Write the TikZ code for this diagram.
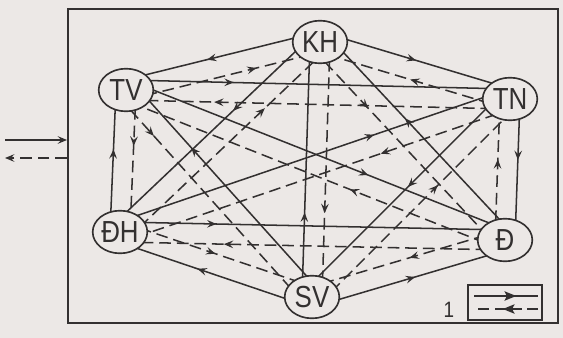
\documentclass[tikz,border=0pt]{standalone}
\usepackage{fontspec}
\setmainfont{Liberation Sans}
\newfontfamily\labelfont[FakeStretch=0.85]{Liberation Sans}
\usetikzlibrary{calc,shapes.geometric,arrows.meta,decorations.markings}
\definecolor{paper}{HTML}{ECE8E6}
\definecolor{ink}{HTML}{333030}
\pgfdeclarelayer{back}
\pgfdeclarelayer{edges}
\pgfsetlayers{back,edges,main}

\begin{document}
\begin{tikzpicture}[x=0.03cm, y=-0.03cm,
    actor/.style={ellipse, draw=ink, fill=paper, line width=1.4pt, inner sep=0pt, minimum width=1.64cm, minimum height=1.28cm, text=ink, font=\labelfont\fontsize{26}{26}\selectfont},
    flowmark/.style={postaction={decorate}, decoration={markings, mark=at position #1 with {\arrow{Stealth[length=8pt,width=6.5pt,inset=3pt]}}}},
    keymark/.style={postaction={decorate}, decoration={markings, mark=at position #1 with {\arrow{Stealth[length=10pt,width=8pt,inset=2pt]}}}},
    solidflow/.style={draw=ink, line width=1.3pt, flowmark=#1},
    dashflow/.style={draw=ink, line width=1.3pt, dash pattern=on 10pt off 5pt, flowmark=#1},
    box/.style={draw=ink, inner sep=0pt}
]
    \begin{pgfonlayer}{back}
        \fill[paper] (0,0) rectangle (563,338);
    \end{pgfonlayer}
    \useasboundingbox (0,0) rectangle (563,338);

    % Khung
    \node[box, line width=1.6pt, minimum width=14.7cm, minimum height=9.42cm] (frame) at (313,166) {};

    % Cac tac nhan
    \node[actor] (kh) at (320,42) {KH};
    \node[actor] (tv) at (126,90) {TV};
    \node[actor] (tn) at (510,99) {TN};
    \node[actor] (dh) at (120,232) {ĐH};
    \node[actor] (d) at (505,240) {Đ};
    \node[actor] (sv) at (312,297) {SV};

    % Cap luong: lien a->b, dut b->a
    \begin{pgfonlayer}{edges}
    \foreach \a/\b/\s/\p/\q [evaluate=\s as \t using -\s] in {
        kh/tv/-90/0.57/0.66, kh/tn/90/0.49/0.51, tv/tn/90/0.28/0.77,
        dh/tv/90/0.58/0.39, tn/d/90/0.43/0.57, sv/kh/90/0.33/0.67,
        dh/d/90/0.25/0.73, sv/dh/90/0.58/0.48, sv/d/-90/0.52/0.48,
        tv/d/90/0.63/0.40, sv/tv/-90/0.69/0.19, kh/dh/-90/0.40/0.69,
        d/kh/-90/0.58/0.30, dh/tn/90/0.66/0.34, tn/sv/-90/0.48/0.60} {
        \draw[solidflow=\p] ($(\a)!0.3cm!\s:(\b)$) -- ($(\b)!0.3cm!\t:(\a)$);
        \draw[dashflow=\q] ($(\b)!0.3cm!\s:(\a)$) -- ($(\a)!0.3cm!\t:(\b)$);
    }
    \end{pgfonlayer}

    % Vao / ra
    \coordinate (feedin) at (5,140);
    \coordinate (feedout) at (5,158);
    \draw[ink, line width=1.3pt, -{Stealth[length=8pt,width=6.5pt,inset=3pt]}] (feedin) -- (feedin -| frame.west);
    \draw[ink, line width=1.3pt, dash pattern=on 10pt off 5pt, -{Stealth[length=8pt,width=6.5pt,inset=3pt]}] (feedout -| frame.west) -- (feedout);

    % Chu thich
    \node[box, line width=1.4pt, minimum width=2.22cm, minimum height=1.05cm] (legend) at (505,302.5) {};
    \node[text=ink, font=\labelfont\fontsize{19}{19}\selectfont] (legnum) at (449,310) {1};
    \coordinate (keyA) at (474,296);
    \coordinate (keyB) at (538,296);
    \coordinate (keyC) at (538,309);
    \coordinate (keyD) at (474,309);
    \draw[ink, line width=1.4pt, keymark=0.66] (keyA) -- (keyB);
    \draw[ink, line width=1.4pt, dash pattern=on 9pt off 5pt, keymark=0.55] (keyC) -- (keyD);
\end{tikzpicture}
\end{document}
